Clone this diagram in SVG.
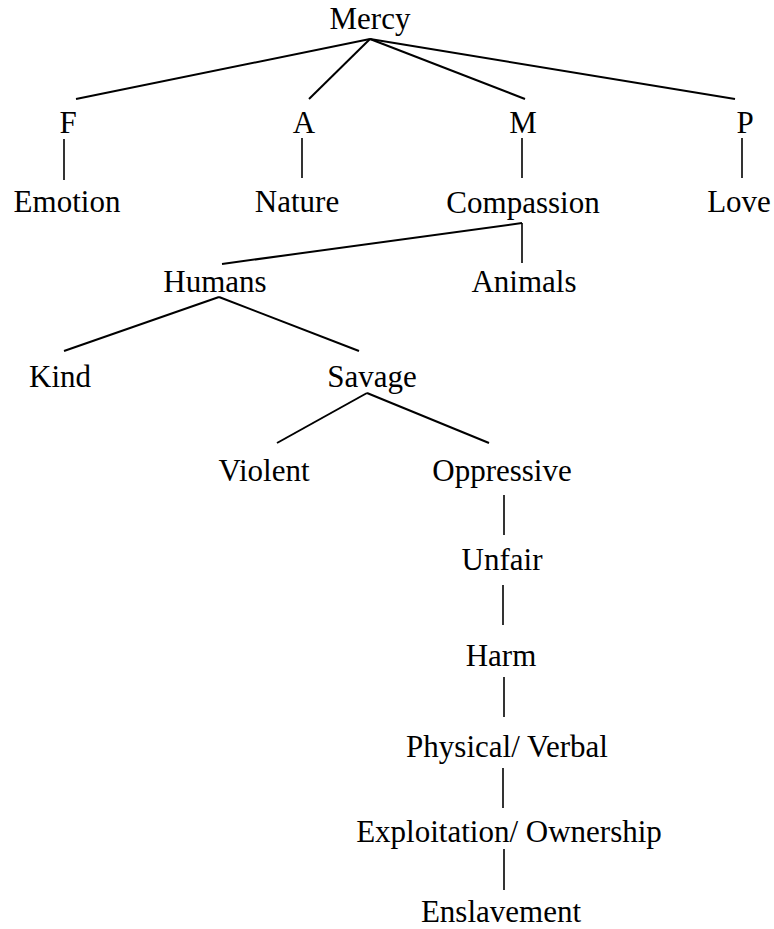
<svg xmlns="http://www.w3.org/2000/svg" width="774" height="929" viewBox="0 0 774 929">
<style>
.t text{font-size:31px;fill:#000;text-anchor:middle}
.e line{stroke:#000;stroke-width:2;stroke-linecap:butt}
.e line.v{stroke-width:1.6}
</style>
<rect width="774" height="929" fill="#fff"/>
<g id="connectors" class="e">
<line x1="370" y1="39" x2="76" y2="99"/>
<line x1="370" y1="39" x2="309" y2="99"/>
<line x1="370" y1="39" x2="525" y2="99"/>
<line x1="370" y1="39" x2="735" y2="99"/>
<line class="v" x1="64" y1="139" x2="64" y2="180"/>
<line class="v" x1="302" y1="138" x2="302" y2="178"/>
<line class="v" x1="522" y1="138" x2="522" y2="178"/>
<line class="v" x1="742" y1="138" x2="742" y2="178"/>
<line x1="522" y1="223" x2="222" y2="264"/>
<line class="v" x1="522" y1="223" x2="522" y2="263"/>
<line x1="219" y1="297" x2="64" y2="351"/>
<line x1="219" y1="297" x2="359" y2="351"/>
<line x1="367" y1="393" x2="277" y2="443"/>
<line x1="367" y1="393" x2="489" y2="443"/>
<line class="v" x1="504" y1="495" x2="504" y2="535"/>
<line class="v" x1="503" y1="585" x2="503" y2="625"/>
<line class="v" x1="504" y1="677" x2="504" y2="717"/>
<line class="v" x1="503" y1="768" x2="503" y2="808"/>
<line class="v" x1="504" y1="849" x2="504" y2="890"/>
</g>
<g class="t" font-family="'Liberation Serif', 'Times New Roman', 'DejaVu Serif', serif">
<g id="mercy"><text x="370" y="29">Mercy</text></g>
<g id="f"><text x="68" y="133">F</text></g>
<g id="a"><text x="304" y="133">A</text></g>
<g id="m"><text x="523" y="133">M</text></g>
<g id="p"><text x="745" y="133">P</text></g>
<g id="emotion"><text x="67" y="212">Emotion</text></g>
<g id="nature"><text x="297" y="212">Nature</text></g>
<g id="compassion"><text x="523" y="213">Compassion</text></g>
<g id="love"><text x="739" y="212">Love</text></g>
<g id="humans"><text x="215" y="292">Humans</text></g>
<g id="animals"><text x="524" y="292">Animals</text></g>
<g id="kind"><text x="60" y="387">Kind</text></g>
<g id="savage"><text x="372" y="387">Savage</text></g>
<g id="violent"><text x="264" y="481">Violent</text></g>
<g id="oppressive"><text x="502" y="481">Oppressive</text></g>
<g id="unfair"><text x="502" y="570">Unfair</text></g>
<g id="harm"><text x="501" y="666">Harm</text></g>
<g id="physical"><text x="507" y="757">Physical/ Verbal</text></g>
<g id="exploitation"><text x="509" y="842">Exploitation/ Ownership</text></g>
<g id="enslavement"><text x="501" y="922">Enslavement</text></g>
</g>
</svg>
